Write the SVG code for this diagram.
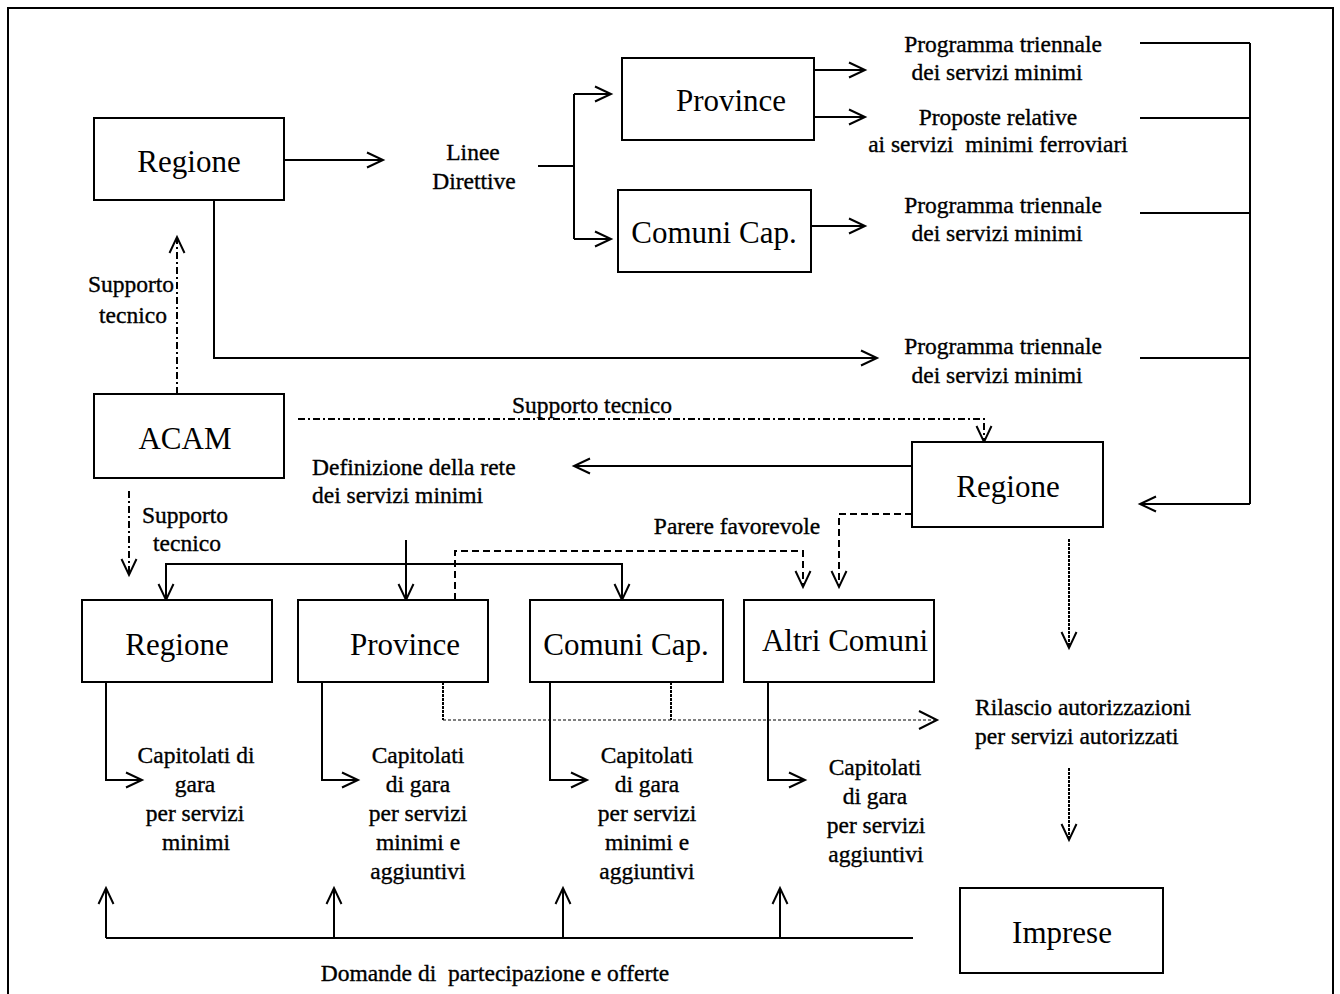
<svg xmlns="http://www.w3.org/2000/svg" width="1340" height="994" viewBox="0 0 1340 994">
<style>
.box{fill:#fff;stroke:#000;stroke-width:2}
.bl{font-family:"Liberation Serif","Times New Roman",serif;font-size:31px;fill:#000;text-anchor:middle}
.t{font-family:"Liberation Serif","Times New Roman",serif;font-size:23.5px;fill:#000;stroke:#000;stroke-width:0.35}
.m{text-anchor:middle}
.ln{fill:none;stroke:#000;stroke-width:2}
.dd{fill:none;stroke:#000;stroke-width:2;stroke-dasharray:7,3,2,3}
.ds{fill:none;stroke:#000;stroke-width:2;stroke-dasharray:7,4}
.dt{fill:none;stroke:#000;stroke-width:2;stroke-dasharray:3,1}
.th{fill:none;stroke:#000;stroke-width:1;stroke-dasharray:3,2}
</style>
<defs>
<marker id="a" markerUnits="userSpaceOnUse" markerWidth="24" markerHeight="20" viewBox="-20 -10 24 20" refX="0" refY="0" orient="auto">
<path d="M-16,-7.5 L0,0 L-16,7.5" fill="none" stroke="#000" stroke-width="2"/>
</marker>
</defs>
<rect width="1340" height="994" fill="#fff"/>
<path d="M8,1000 V8 H1333 V1000" fill="none" stroke="#000" stroke-width="2"/>

<g id="connectors">
<path class="ln" d="M284,160 H383" marker-end="url(#a)"/>
<path class="ln" d="M538,166 H574"/>
<path class="ln" d="M574,94 V239"/>
<path class="ln" d="M574,94 H611" marker-end="url(#a)"/>
<path class="ln" d="M574,239 H611" marker-end="url(#a)"/>
<path class="ln" d="M814,70 H865" marker-end="url(#a)"/>
<path class="ln" d="M814,117 H865" marker-end="url(#a)"/>
<path class="ln" d="M811,226 H865" marker-end="url(#a)"/>
<path class="ln" d="M1140,43 H1250 M1140,118 H1250 M1140,213 H1250 M1140,358 H1250 M1250,43 V504"/>
<path class="ln" d="M1250,504 H1140" marker-end="url(#a)"/>
<path class="ln" d="M214,200 V358 H877" marker-end="url(#a)"/>
<path class="dd" d="M177,394 V237" marker-end="url(#a)"/>
<path class="dd" d="M298,419 H984 V442" marker-end="url(#a)"/>
<path class="dd" d="M129,491 V575" marker-end="url(#a)"/>
<path class="ln" d="M912,466 H574" marker-end="url(#a)"/>
<path class="ds" d="M912,514 H839 V587" marker-end="url(#a)"/>
<path class="ds" d="M455,600 V551 H803 V587" marker-end="url(#a)"/>
<path class="ln" d="M406,540 V600" marker-end="url(#a)"/>
<path class="ln" d="M166,600 V564 H622 V600" marker-end="url(#a)"/>
<path class="ln" d="M166,570 V600" marker-end="url(#a)"/>
<path class="dt" d="M1069,539 V648" marker-end="url(#a)"/>
<path class="dt" d="M1069,768 V840" marker-end="url(#a)"/>
<path class="dt" d="M443,682 V720 M671,682 V720"/>
<path class="th" d="M443,720 H935"/>
<path class="ln" d="M919,711 L937,720 L919,729"/>
<path class="ln" d="M106,682 V780 H142" marker-end="url(#a)"/>
<path class="ln" d="M322,682 V780 H358" marker-end="url(#a)"/>
<path class="ln" d="M550,682 V780 H587" marker-end="url(#a)"/>
<path class="ln" d="M768,682 V780 H805" marker-end="url(#a)"/>
<path class="ln" d="M913,938 H106"/>
<path class="ln" d="M106,938 V888" marker-end="url(#a)"/>
<path class="ln" d="M334,938 V888" marker-end="url(#a)"/>
<path class="ln" d="M563,938 V888" marker-end="url(#a)"/>
<path class="ln" d="M780,938 V888" marker-end="url(#a)"/>
</g>

<g id="regione-top"><rect class="box" x="94" y="118" width="190" height="82"/><text class="bl" x="189" y="172">Regione</text></g>
<g id="province-top"><rect class="box" x="622" y="58" width="192" height="82"/><text class="bl" x="731" y="111">Province</text></g>
<g id="comuni-top"><rect class="box" x="618" y="190" width="193" height="82"/><text class="bl" x="714" y="243">Comuni Cap.</text></g>
<g id="acam"><rect class="box" x="94" y="394" width="190" height="84"/><text class="bl" x="185" y="449">ACAM</text></g>
<g id="regione-mid"><rect class="box" x="912" y="442" width="191" height="85"/><text class="bl" x="1008" y="497">Regione</text></g>
<g id="regione-bot"><rect class="box" x="82" y="600" width="190" height="82"/><text class="bl" x="177" y="655">Regione</text></g>
<g id="province-bot"><rect class="box" x="298" y="600" width="190" height="82"/><text class="bl" x="405" y="655">Province</text></g>
<g id="comuni-bot"><rect class="box" x="530" y="600" width="193" height="82"/><text class="bl" x="626" y="655">Comuni Cap.</text></g>
<g id="altri-comuni"><rect class="box" x="744" y="600" width="190" height="82"/><text class="bl" x="845" y="651">Altri Comuni</text></g>
<g id="imprese"><rect class="box" x="960" y="888" width="203" height="85"/><text class="bl" x="1062" y="943">Imprese</text></g>

<g id="labels">
<text class="t m" x="473" y="160">Linee</text>
<text class="t m" x="474" y="189">Direttive</text>
<text class="t m" x="1003" y="52">Programma triennale</text>
<text class="t m" x="997" y="80">dei servizi minimi</text>
<text class="t m" x="998" y="125">Proposte relative</text>
<text class="t m" x="998" y="152" xml:space="preserve">ai servizi  minimi ferroviari</text>
<text class="t m" x="1003" y="213">Programma triennale</text>
<text class="t m" x="997" y="241">dei servizi minimi</text>
<text class="t m" x="1003" y="354">Programma triennale</text>
<text class="t m" x="997" y="383">dei servizi minimi</text>
<text class="t m" x="131" y="292">Supporto</text>
<text class="t m" x="133" y="323">tecnico</text>
<text class="t m" x="592" y="413">Supporto tecnico</text>
<text class="t" x="312" y="475">Definizione della rete</text>
<text class="t" x="312" y="503">dei servizi minimi</text>
<text class="t m" x="185" y="523">Supporto</text>
<text class="t m" x="187" y="551">tecnico</text>
<text class="t m" x="737" y="534">Parere favorevole</text>
<text class="t m" x="196" y="763">Capitolati di</text>
<text class="t m" x="195" y="792">gara</text>
<text class="t m" x="195" y="821">per servizi</text>
<text class="t m" x="196" y="850">minimi</text>
<text class="t m" x="418" y="763">Capitolati</text>
<text class="t m" x="418" y="792">di gara</text>
<text class="t m" x="418" y="821">per servizi</text>
<text class="t m" x="418" y="850">minimi e</text>
<text class="t m" x="418" y="879">aggiuntivi</text>
<text class="t m" x="647" y="763">Capitolati</text>
<text class="t m" x="647" y="792">di gara</text>
<text class="t m" x="647" y="821">per servizi</text>
<text class="t m" x="647" y="850">minimi e</text>
<text class="t m" x="647" y="879">aggiuntivi</text>
<text class="t m" x="875" y="775">Capitolati</text>
<text class="t m" x="875" y="804">di gara</text>
<text class="t m" x="876" y="833">per servizi</text>
<text class="t m" x="876" y="862">aggiuntivi</text>
<text class="t" x="975" y="715">Rilascio autorizzazioni</text>
<text class="t" x="975" y="744">per servizi autorizzati</text>
<text class="t m" x="495" y="981" xml:space="preserve">Domande di  partecipazione e offerte</text>
</g>
</svg>
